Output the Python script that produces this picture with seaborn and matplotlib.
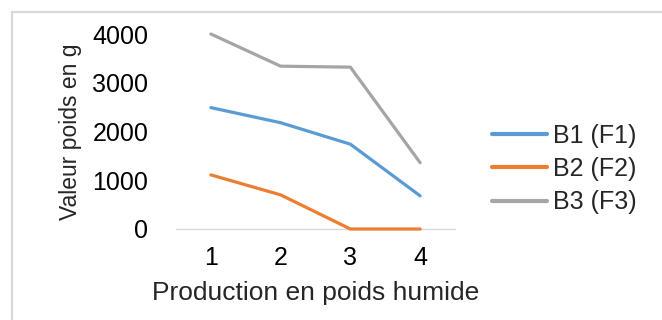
import matplotlib
matplotlib.use("Agg")
import matplotlib.pyplot as plt
import seaborn as sns
import pandas as pd
from matplotlib.lines import Line2D

# Production values (g) per harvest for each bed
categories = [1, 2, 3, 4]
b1_f1 = [2490, 2180, 1740, 680]
b2_f2 = [1110, 700, 0, 0]
b3_f3 = [4000, 3340, 3320, 1360]
series_names = ["B1 (F1)", "B2 (F2)", "B3 (F3)"]
y_ticks = [0, 1000, 2000, 3000, 4000]

colors = ["#5B9BD5", "#ED7D31", "#A5A5A5"]

df = pd.DataFrame({
    "x": categories * 3,
    "y": b1_f1 + b2_f2 + b3_f3,
    "serie": [series_names[0]] * 4 + [series_names[1]] * 4 + [series_names[2]] * 4,
})

sns.set_style("white")
plt.rcParams["font.family"] = ["Liberation Sans", "DejaVu Sans"]

W, H = 662, 320
fig = plt.figure(figsize=(W / 100, H / 100), dpi=100)
ax = fig.add_axes([176 / W, (H - 229) / H, (455 - 176) / W, (229 - 34) / H])

sns.lineplot(data=df, x="x", y="y", hue="serie", palette=colors, ax=ax,
             linewidth=2.3, legend=False)
for ln in ax.lines:
    ln.set_solid_capstyle("round")
    ln.set_solid_joinstyle("round")
    ln.set_clip_on(False)

ax.set_xlim(0.5, 4.5)
ax.set_ylim(0, 4000)
ax.set_xticks(categories)
ax.set_xticklabels([str(c) for c in categories])
ax.set_yticks(y_ticks)
ax.set_yticklabels([str(v) for v in y_ticks])
ax.tick_params(axis="both", length=0, labelsize=18, colors="#000000")
ax.tick_params(axis="x", pad=12)
ax.tick_params(axis="y", pad=20)

for side in ["top", "right", "left"]:
    ax.spines[side].set_visible(False)
ax.spines["bottom"].set_color("#D9D9D9")
ax.spines["bottom"].set_linewidth(1.0)
ax.spines["bottom"].set_zorder(0)

ax.set_xlabel("Production en poids humide", fontsize=19, labelpad=8)
ax.set_ylabel("Valeur poids en g", fontsize=16.5, labelpad=7)

handles = [Line2D([0], [0], color=c, linewidth=3) for c in colors]
fig.legend(handles, series_names, loc="center left",
           bbox_to_anchor=(492 / W, (H - 169) / H), bbox_transform=fig.transFigure,
           frameon=False, fontsize=18, handlelength=2.2, handletextpad=0.25,
           labelspacing=0.38, borderpad=0, borderaxespad=0)

# chart-area border (top and left edges visible)
fig.add_artist(Line2D([12 / W, 12 / W], [0, (H - 12) / H], transform=fig.transFigure,
                      color="#D9D9D9", linewidth=1.6))
fig.add_artist(Line2D([12 / W, 1], [(H - 12) / H, (H - 12) / H], transform=fig.transFigure,
                      color="#D9D9D9", linewidth=1.6))

fig.savefig("out.png", dpi=100, facecolor="white")
